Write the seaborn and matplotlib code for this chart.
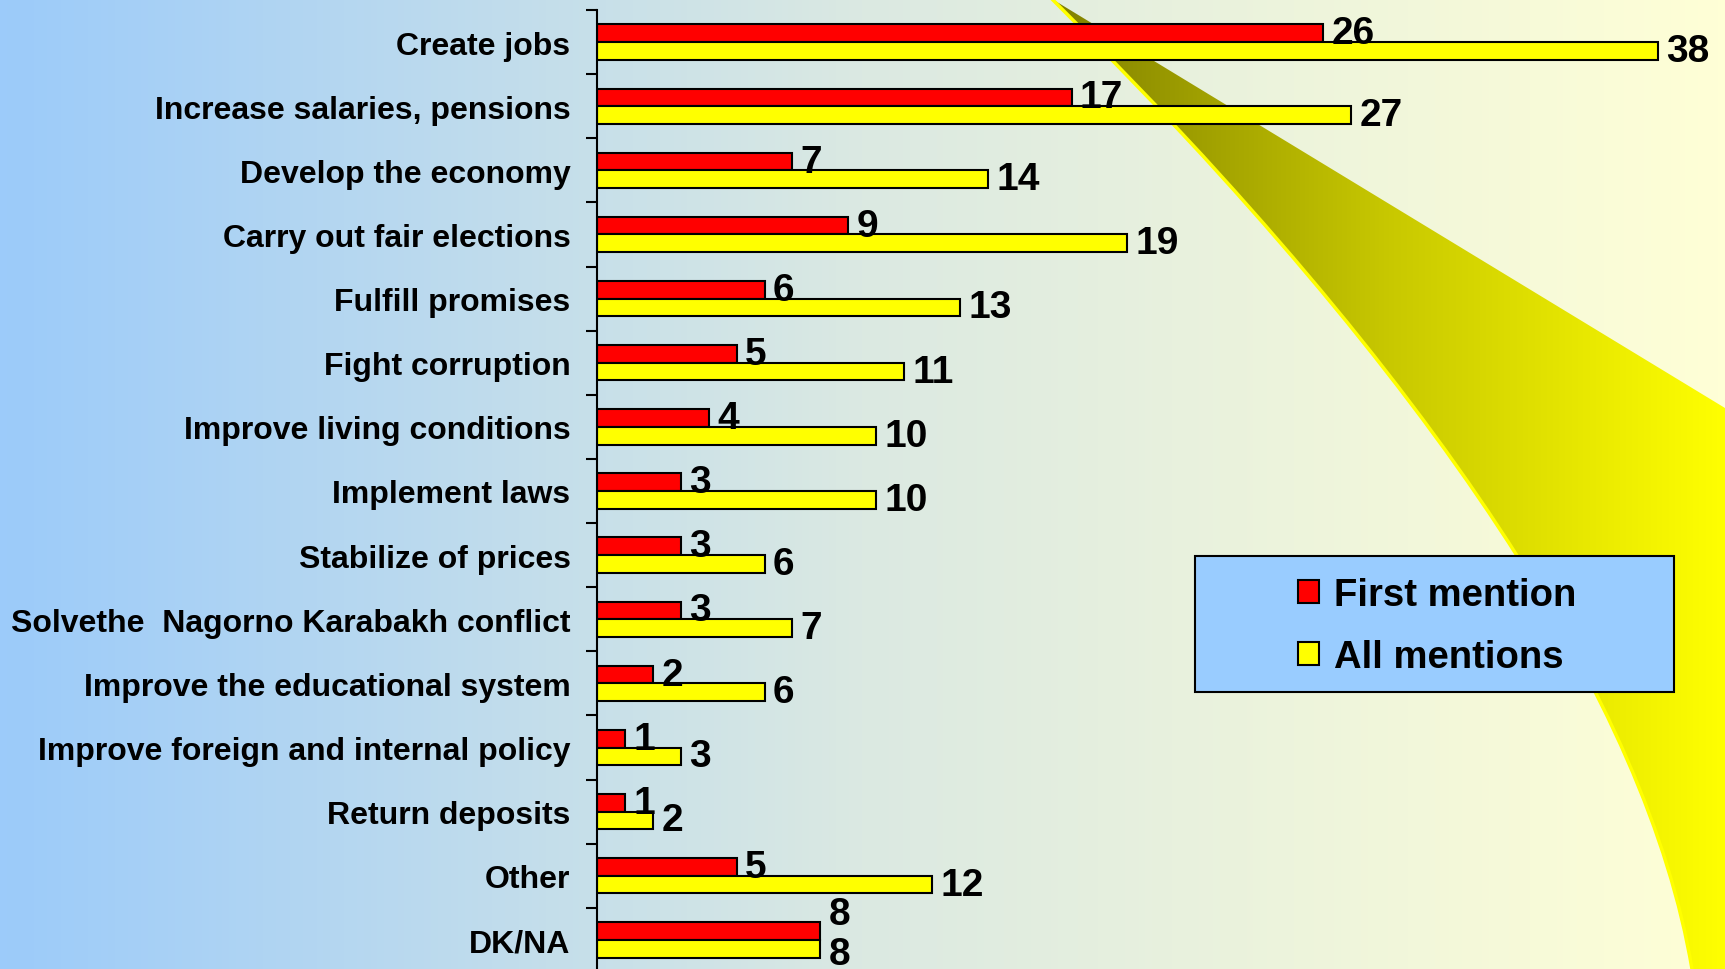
import numpy as np
import pandas as pd
import seaborn as sns
import matplotlib.pyplot as plt
from matplotlib.path import Path
from matplotlib.patches import PathPatch, Rectangle
from matplotlib.colors import LinearSegmentedColormap
from matplotlib.ticker import FixedLocator

# Data
categories = ['Create jobs', 'Increase salaries, pensions', 'Develop the economy',
              'Carry out fair elections', 'Fulfill promises', 'Fight corruption',
              'Improve living conditions', 'Implement laws', 'Stabilize of prices',
              'Solvethe  Nagorno Karabakh conflict', 'Improve the educational system',
              'Improve foreign and internal policy', 'Return deposits', 'Other', 'DK/NA']
first_mention = [26, 17, 7, 9, 6, 5, 4, 3, 3, 3, 2, 1, 1, 5, 8]
all_mentions = [38, 27, 14, 19, 13, 11, 10, 10, 6, 7, 6, 3, 2, 12, 8]
series = ['First mention', 'All mentions']

df = pd.DataFrame({
    'category': categories * 2,
    'value': first_mention + all_mentions,
    'series': [series[0]] * len(categories) + [series[1]] * len(categories),
})

sns.set_theme(style='white')
plt.rcParams['font.family'] = ['Liberation Sans', 'DejaVu Sans']

W, H = 1725, 970
fig = plt.figure(figsize=(W / 100, H / 100), dpi=100)

# background gradient + swoosh
bg = fig.add_axes([0, 0, 1, 1], zorder=0)
bg.axis('off')
bg_cmap = LinearSegmentedColormap.from_list('bg', [(0, '#9ccbfa'), (0.5, '#dbe9e2'), (1, '#ffffd6')])
bg.imshow(np.linspace(0, 1, 256)[None, :], cmap=bg_cmap, aspect='auto',
          extent=[0, W, H, 0], zorder=0)

verts = [(1052, 0), (1625, 571), (1692, 970), (1725, 970), (1725, 409), (1052, 0)]
codes = [Path.MOVETO, Path.CURVE3, Path.CURVE3, Path.LINETO, Path.LINETO, Path.CLOSEPOLY]
swoosh = PathPatch(Path(verts, codes), facecolor='none', edgecolor='none')
bg.add_patch(swoosh)
sw_cmap = LinearSegmentedColormap.from_list('sw', ['#808000', '#c8c800', '#ffff00'])
im = bg.imshow(np.linspace(0, 1, 256)[None, :], cmap=sw_cmap, aspect='auto',
               extent=[1052, W, H, 0], zorder=1)
im.set_clip_path(swoosh)
edge = Path(verts[:3], codes[:3])
bg.add_patch(PathPatch(edge, facecolor='none', edgecolor='#ffff00', lw=2.5, zorder=2))
bg.set_xlim(0, W)
bg.set_ylim(H, 0)

# main chart
ax = fig.add_axes([597 / W, -3 / H, (W - 597) / W, 962 / H], zorder=2)
ax.patch.set_alpha(0)
sns.barplot(data=df, y='category', x='value', hue='series', orient='h',
            palette=['#ff0000', '#ffff00'], width=0.55, saturation=1,
            edgecolor='black', linewidth=1.5, ax=ax, legend=False)

for i, cont in enumerate(ax.containers):
    labels = ax.bar_label(cont, padding=6, fontsize=28, fontweight='bold', color='black')
    # the two DK/NA labels are pulled apart a little, as in the original
    shift = 12 if i == 0 else -4
    labels[-1].xyann = (labels[-1].xyann[0], labels[-1].xyann[1] + shift)

ax.set_xlim(0, 40.4)
ax.set_ylim(len(categories) - 0.5, -0.5)
ax.set_xlabel('')
ax.set_ylabel('')
ax.set_xticks([])
sns.despine(ax=ax, top=True, right=True, bottom=True)
ax.spines['left'].set_color('black')
ax.spines['left'].set_linewidth(1.5)
ax.tick_params(axis='y', which='major', length=0, pad=19, labelsize=23, labelcolor='black')
ax.yaxis.set_minor_locator(FixedLocator(np.arange(-0.5, len(categories), 1)))
ax.tick_params(axis='y', which='minor', left=True, length=8, width=1.5, color='black')
for t in ax.get_yticklabels():
    t.set_fontweight('bold')

# legend box
fig.patches.append(Rectangle((1195 / W, 1 - 693 / H), 479 / W, 136 / H,
                             transform=fig.transFigure, facecolor='#99ccff',
                             edgecolor='black', lw=1.5, zorder=3))
handles = [Rectangle((0, 0), 1, 1, facecolor=c, edgecolor='black', lw=1.5)
           for c in ['#ff0000', '#ffff00']]
leg = fig.legend(handles, series, loc='center',
                 bbox_to_anchor=(1437 / W, 1 - 627 / H),
                 frameon=False, prop={'weight': 'bold', 'size': 27.5},
                 handlelength=0.55, handleheight=0.55, handletextpad=0.4,
                 labelspacing=0.68)
for txt in leg.get_texts():
    txt.set_color('black')
leg.set_zorder(4)

fig.savefig('out.png', dpi=100)
